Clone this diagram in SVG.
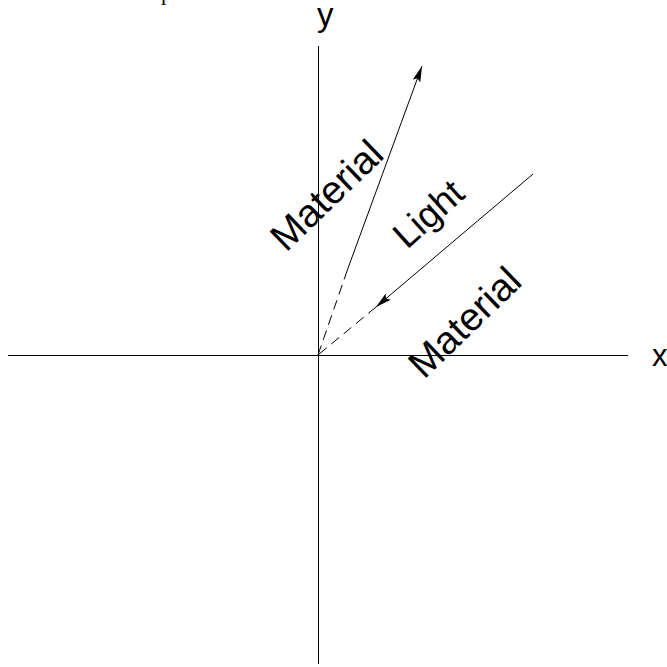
<svg xmlns="http://www.w3.org/2000/svg" width="667" height="667" viewBox="0 0 667 667">
<style>
.ax{stroke:#000;stroke-width:1;fill:none}
.ln{stroke:#000;stroke-width:1;fill:none}
.dash{stroke:#000;stroke-width:1;fill:none;stroke-dasharray:10,6}
.lbl{font-family:"Liberation Sans",Arial,sans-serif;fill:#000}
</style>
<defs>
<marker id="ah" markerWidth="16" markerHeight="8" refX="16" refY="4" orient="auto" markerUnits="userSpaceOnUse">
<path d="M0,0 L16,4 L0,8 L3,4 Z" fill="#000"/>
</marker>
</defs>
<rect width="667" height="667" fill="#fff"/>
<text x="161" y="0" font-family="Liberation Serif,serif" font-size="22">p</text>
<g id="connectors">
<line class="ax" x1="318.5" y1="46" x2="318.5" y2="664"/>
<line class="ax" x1="8" y1="355.5" x2="628" y2="355.5"/>
<line class="dash" x1="318" y1="355" x2="347" y2="271"/>
<line class="ln" x1="347" y1="271" x2="422" y2="66" marker-end="url(#ah)"/>
<line class="ln" x1="533" y1="174" x2="376" y2="307" marker-end="url(#ah)"/>
<line class="dash" x1="376" y1="307" x2="318" y2="355"/>
</g>
<g id="label-y"><text class="lbl" x="317" y="26" font-size="33">y</text></g>
<g id="label-x"><text class="lbl" x="652" y="366" font-size="31">x</text></g>
<g id="label-material-upper"><text class="lbl" font-size="39" transform="translate(286,253) rotate(-44)">Material</text></g>
<g id="label-light"><text class="lbl" font-size="37" transform="translate(407,250) rotate(-42)">Light</text></g>
<g id="label-material-lower"><text class="lbl" font-size="39" transform="translate(424,380) rotate(-44)">Material</text></g>
</svg>
